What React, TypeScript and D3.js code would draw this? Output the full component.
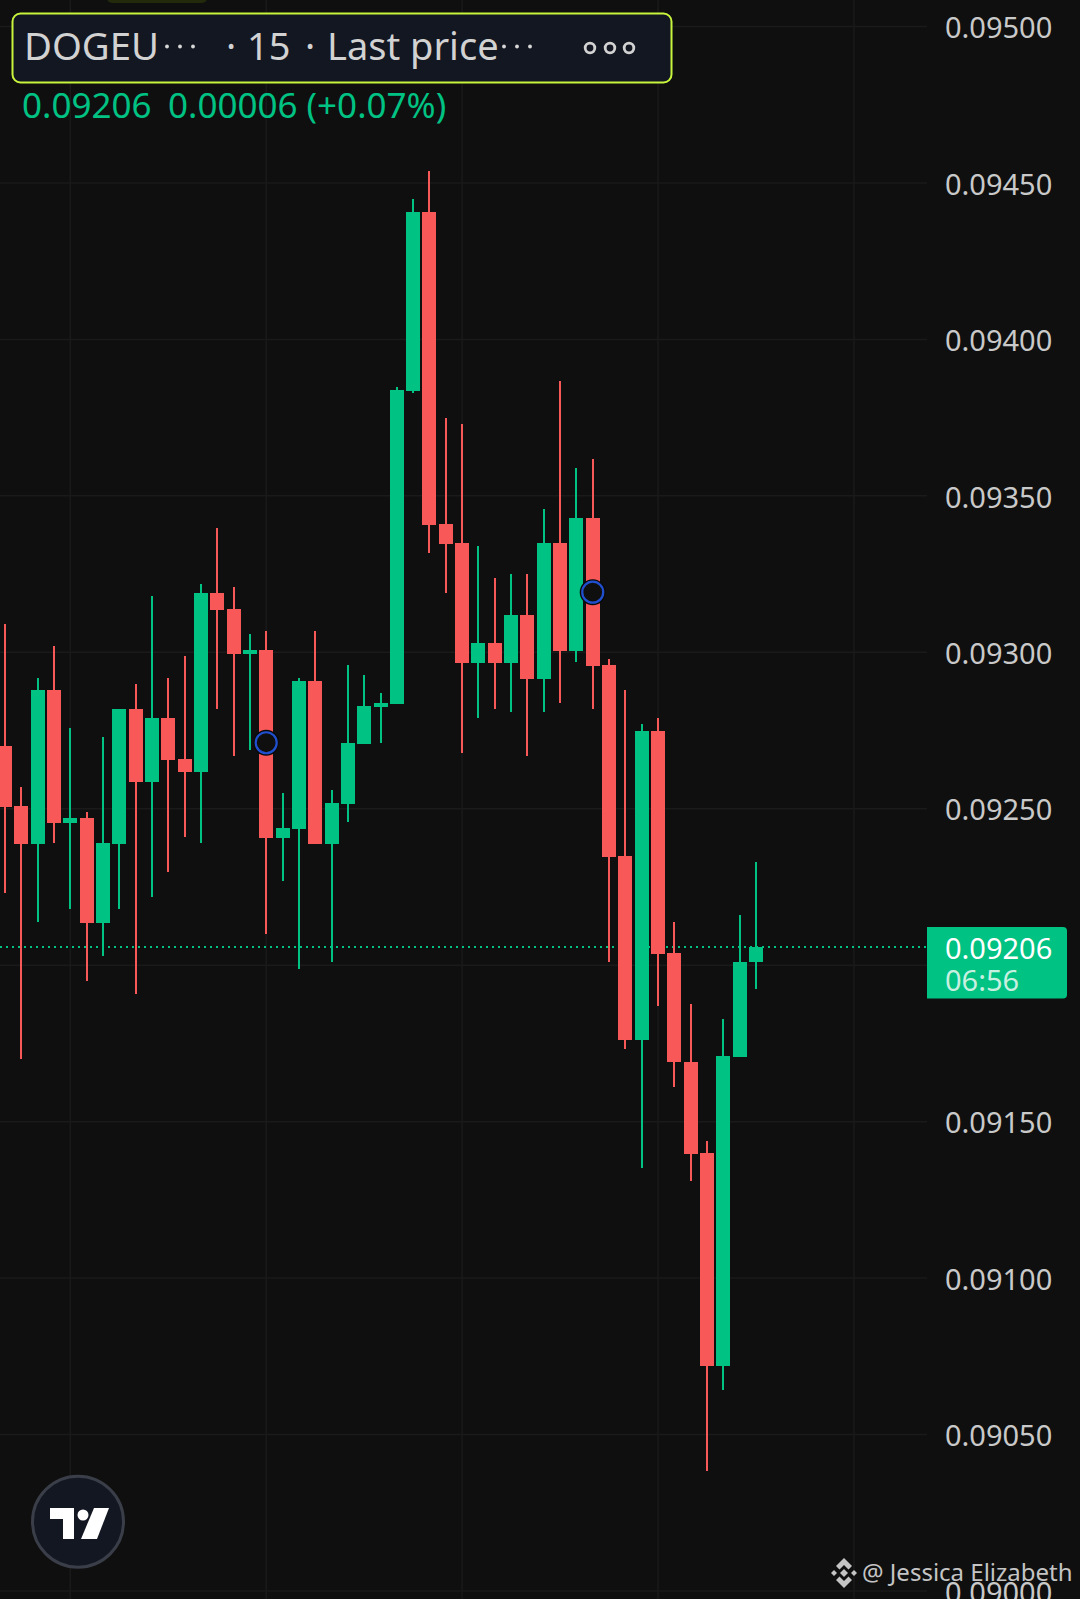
import React from "react";
import * as d3 from "d3";

const W = 1080;
const H = 1599;
const BG = "#0f0f0f";
const GRID = "#1a1a1a";
const UP = "#00c283";
const DOWN = "#f95858";
const LABEL = "#c9c9c9";

const opens = [0.0927,0.092509,0.092387,0.092879,0.092454,0.09247,0.092135,0.092387,0.092819,0.092585,0.09279,0.092659,0.092617,0.093189,0.093138,0.092994,0.093007,0.092406,0.092435,0.092908,0.092387,0.092515,0.092707,0.092825,0.092835,0.093835,0.094406,0.09341,0.093349,0.092965,0.093029,0.092965,0.093119,0.092914,0.093349,0.093004,0.093429,0.092959,0.092349,0.091761,0.092748,0.092039,0.091691,0.0914,0.090719,0.091707,0.09201];
const closes = [0.092505,0.092387,0.092879,0.092454,0.09247,0.092135,0.09239,0.092819,0.092585,0.09279,0.092656,0.092617,0.093189,0.093135,0.092994,0.093007,0.092406,0.092438,0.092908,0.092387,0.092518,0.09271,0.092828,0.092838,0.093838,0.094406,0.093406,0.093346,0.092965,0.093029,0.092965,0.093119,0.092914,0.093349,0.093004,0.093429,0.092956,0.092346,0.091761,0.092748,0.092036,0.091691,0.091397,0.090719,0.09171,0.09201,0.092058];
const highs = [0.09309,0.092569,0.092918,0.09302,0.092758,0.09249,0.092729,0.092819,0.092898,0.09318,0.092918,0.092988,0.093218,0.093397,0.093208,0.093058,0.093068,0.09255,0.092918,0.093068,0.09256,0.092959,0.092927,0.09287,0.093847,0.094448,0.094537,0.093748,0.093729,0.093339,0.093237,0.09325,0.09325,0.093458,0.093866,0.093588,0.093617,0.092978,0.092879,0.092771,0.09279,0.092138,0.091876,0.091438,0.091828,0.09216,0.09233];
const lows = [0.092231,0.0917,0.092138,0.09239,0.09218,0.09195,0.09203,0.09218,0.091908,0.092218,0.092298,0.09241,0.09239,0.092819,0.092668,0.092688,0.0921,0.092269,0.091988,0.092387,0.09201,0.092458,0.092828,0.09271,0.092835,0.093828,0.093317,0.093189,0.092678,0.09279,0.092819,0.092809,0.092668,0.092809,0.092838,0.092969,0.092819,0.09201,0.091732,0.091352,0.09187,0.091611,0.091311,0.090384,0.090643,0.091707,0.091924];

const priceTicks = [0.095, 0.0945, 0.094, 0.0935, 0.093, 0.0925, 0.092, 0.0915, 0.091, 0.0905, 0.09];
const timeTickIndexes = [4, 16, 28, 40, 52];
const markerIndexes = [16, 36];
const markerPrices = [0.092711, 0.093192];
const lastPrice = 0.09206;
const lastPriceLabel = "0.09206";
const countdown = "06:56";
const legendPrice = "0.09206";
const legendChange = "0.00006 (+0.07%)";

const x = d3.scaleLinear().domain([0, 46]).range([5, 756]);
const y = d3.scaleLinear().domain([0.09, 0.095]).range([1591, 26.5]);

const FONT = '"Noto Sans", sans-serif';
const PLOT_RIGHT = 927;
const BODY_W = 14;
const WICK_W = 2;

function Dots({ x0, cy }: { x0: number; cy: number }) {
  return (
    <g fill="#d8d8d8">
      {[0, 13, 26].map((d) => (
        <circle key={d} cx={x0 + d} cy={cy} r={1.9} />
      ))}
    </g>
  );
}

function Legend() {
  return (
    <g fontFamily={FONT}>
      <rect x={107} y={-8} width={100} height={11} rx={5} fill="#232a0c" />
      <rect x={12.5} y={13.5} width={659} height={69} rx={8} fill="#131722" stroke="#c8f53c" strokeWidth={2} />
      <g fill="#d2d2d2" fontSize={38}>
        <text x={24} y={60} textLength={135} lengthAdjust="spacingAndGlyphs">DOGEU</text>
        <text x={226} y={60}>·</text>
        <text x={247} y={60}>15</text>
        <text x={305} y={60}>·</text>
        <text x={327} y={60}>Last price</text>
      </g>
      <Dots x0={167} cy={46.5} />
      <Dots x0={504} cy={46.5} />
      <g fill="none" stroke="#d2d2d2" strokeWidth={2.8}>
        <circle cx={590} cy={48} r={4.8} />
        <circle cx={610} cy={48} r={4.8} />
        <circle cx={629} cy={48} r={4.8} />
      </g>
      <g fill={UP} fontSize={35}>
        <text x={22} y={117.5}>{legendPrice}</text>
        <text x={168} y={117.5}>{legendChange}</text>
      </g>
    </g>
  );
}

function Logo() {
  return (
    <g>
      <circle cx={78} cy={1521.7} r={45.5} fill="#131722" stroke="#3a3e48" strokeWidth={3} />
      <path d="M50 1508H74V1539H63V1519H50Z" fill="#fff" />
      <circle cx={83} cy={1515} r={5.5} fill="#fff" />
      <path d="M94 1508H109L97 1539H81Z" fill="#fff" />
    </g>
  );
}

function Watermark() {
  const cx = 844;
  const cy = 1573;
  return (
    <g fill="#c4c4c4">
      <path d={`M${cx} ${cy - 15}l8 8-3.5 3.5-4.5-4.5-4.5 4.5-3.5-3.5Z`} />
      <path d={`M${cx} ${cy + 15}l8-8-3.5-3.5-4.5 4.5-4.5-4.5-3.5 3.5Z`} />
      <path d={`M${cx} ${cy - 4}l4 4-4 4-4-4Z`} />
      <path d={`M${cx - 10} ${cy - 3}l3 3-3 3-3-3Z`} />
      <path d={`M${cx + 10} ${cy - 3}l3 3-3 3-3-3Z`} />
      <text x={862} y={1581} fontFamily={FONT} fontSize={24}>@ Jessica Elizabeth</text>
    </g>
  );
}

export default function App() {
  const priceFmt = d3.format(".5f");
  const ly = y(lastPrice);
  return (
    <svg
      width={W}
      height={H}
      viewBox={`0 0 ${W} ${H}`}
      style={{ position: "fixed", left: 0, top: 0, display: "block", background: BG }}
    >
      <rect width={W} height={H} fill={BG} />
      <g stroke={GRID} strokeWidth={1.5}>
        {priceTicks.map((p) => (
          <line key={p} x1={0} x2={PLOT_RIGHT} y1={y(p)} y2={y(p)} />
        ))}
        {timeTickIndexes.map((i) => (
          <line key={i} x1={x(i)} x2={x(i)} y1={0} y2={H} />
        ))}
      </g>
      <line x1={0} x2={PLOT_RIGHT} y1={ly + 0.6} y2={ly + 0.6} stroke={UP} strokeWidth={2} strokeDasharray="2 4" />
      <g shapeRendering="crispEdges">
        {opens.map((o, i) => {
          const c = closes[i];
          const color = c >= o ? UP : DOWN;
          const top = Math.max(o, c);
          const bot = Math.min(o, c);
          return (
            <g key={i} fill={color}>
              <rect x={Math.round(x(i)) - WICK_W / 2} y={y(highs[i])} width={WICK_W} height={y(lows[i]) - y(highs[i])} />
              <rect x={Math.round(x(i)) - BODY_W / 2} y={y(top)} width={BODY_W} height={Math.max(y(bot) - y(top), 1)} />
            </g>
          );
        })}
      </g>
      {markerIndexes.map((i, k) => (
        <g key={i}>
          <circle cx={x(i)} cy={y(markerPrices[k])} r={13} fill="#0a0a0a" />
          <circle cx={x(i)} cy={y(markerPrices[k])} r={10.5} fill={BG} stroke="#2050d0" strokeWidth={2.2} />
        </g>
      ))}
      <g fontFamily={FONT} fontSize={29} fill={LABEL} dominantBaseline="central">
        {priceTicks.map((p) => (
          <text key={p} x={945} y={y(p) + 0.2}>{priceFmt(p)}</text>
        ))}
      </g>
      <path d="M927 927H1063a4 4 0 0 1 4 4V994.5a4 4 0 0 1-4 4H927Z" fill={UP} />
      <g fontFamily={FONT} fontSize={29} dominantBaseline="central">
        <text x={945} y={947} fill="#ffffff">{lastPriceLabel}</text>
        <text x={945} y={979} fill="#c8f0e0">{countdown}</text>
      </g>
      <Legend />
      <Logo />
      <Watermark />
    </svg>
  );
}
